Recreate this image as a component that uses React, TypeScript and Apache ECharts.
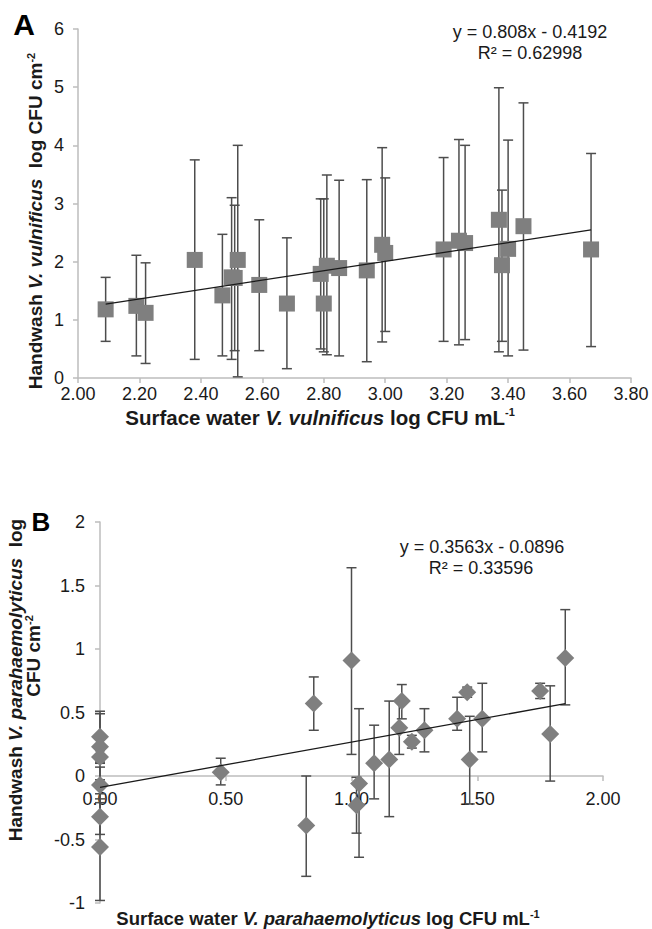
import React, { useEffect, useRef } from "react";
import * as echarts from "echarts";

// ---------- Panel A: V. vulnificus ----------
const aX = [2.09, 2.19, 2.22, 2.38, 2.47, 2.5, 2.51, 2.52, 2.59, 2.68, 2.79, 2.8, 2.81, 2.85, 2.94, 2.99, 3.0, 3.19, 3.24, 3.26, 3.37, 3.38, 3.4, 3.45, 3.67];
const aY = [1.18, 1.24, 1.12, 2.03, 1.42, 1.73, 1.72, 2.03, 1.6, 1.28, 1.79, 1.28, 1.93, 1.89, 1.85, 2.29, 2.15, 2.21, 2.36, 2.32, 2.72, 1.94, 2.22, 2.61, 2.21];
const aLow = [0.63, 0.38, 0.25, 0.32, 0.38, 0.32, 0.47, 0.02, 0.47, 0.16, 0.5, 0.45, 0.4, 0.38, 0.28, 0.62, 0.8, 0.63, 0.57, 0.66, 0.45, 0.63, 0.38, 0.48, 0.54];
const aHigh = [1.73, 2.11, 1.98, 3.75, 2.47, 3.1, 2.97, 4.0, 2.72, 2.41, 3.08, 3.08, 3.49, 3.4, 3.41, 3.96, 3.44, 3.79, 4.1, 4.0, 4.99, 3.23, 4.09, 4.73, 3.86];
const aSlope = 0.808;
const aIntercept = -0.4192;
const aXTicks = { min: 2, max: 3.8, interval: 0.2 };
const aYTicks = { min: 0, max: 6, interval: 1 };

// ---------- Panel B: V. parahaemolyticus ----------
const bX = [0, 0, 0, 0, 0, 0, 0.48, 0.82, 0.85, 1.0, 1.02, 1.03, 1.09, 1.15, 1.19, 1.2, 1.24, 1.29, 1.42, 1.46, 1.47, 1.52, 1.75, 1.79, 1.85];
const bY = [0.31, 0.23, 0.15, -0.07, -0.32, -0.56, 0.03, -0.39, 0.57, 0.91, -0.23, -0.06, 0.1, 0.13, 0.38, 0.59, 0.27, 0.36, 0.45, 0.66, 0.13, 0.45, 0.67, 0.33, 0.93];
const bLow = [0.11, -0.03, 0.1, -0.21, -0.46, -0.98, -0.07, -0.79, 0.36, 0.17, -0.45, -0.64, -0.18, -0.32, 0.17, 0.45, 0.22, 0.19, 0.36, 0.62, -0.22, 0.19, 0.61, -0.04, 0.56];
const bHigh = [0.51, 0.49, 0.2, 0.07, -0.18, -0.14, 0.14, 0.0, 0.78, 1.64, -0.01, 0.53, 0.4, 0.59, 0.59, 0.72, 0.32, 0.53, 0.62, 0.7, 0.47, 0.73, 0.73, 0.71, 1.31];
const bSlope = 0.3563;
const bIntercept = -0.0896;
const bXTicks = { min: 0, max: 2, interval: 0.5 };
const bYTicks = { min: -1, max: 2, interval: 0.5 };

const FONT = "'Liberation Sans', Arial, Helvetica, sans-serif";
const TEXT = "#1a1a1a";
const AXIS = "#bdbdbd";
const MARK = "#7f7f7f";
const BAR = "#4d4d4d";

const B_TOP = 522;
const B_HEIGHT = 381;

function trend(xs: number[], m: number, b: number) {
  const lo = Math.min(...xs);
  const hi = Math.max(...xs);
  return [
    [lo, m * lo + b],
    [hi, m * hi + b],
  ];
}

function errorItem(params: any, api: any) {
  const x = api.value(0);
  const p1 = api.coord([x, api.value(1)]);
  const p2 = api.coord([x, api.value(2)]);
  const hw = 5;
  const style = { stroke: BAR, lineWidth: 1.5, fill: "none" };
  return {
    type: "group",
    children: [
      { type: "line", shape: { x1: p1[0], y1: p1[1], x2: p2[0], y2: p2[1] }, style },
      { type: "line", shape: { x1: p2[0] - hw, y1: p2[1], x2: p2[0] + hw, y2: p2[1] }, style },
      { type: "line", shape: { x1: p1[0] - hw, y1: p1[1], x2: p1[0] + hw, y2: p1[1] }, style },
    ],
  };
}

function rich(size: number) {
  return {
    b: { fontFamily: FONT, fontSize: size, fontWeight: "bold", fill: TEXT, color: TEXT },
    bi: { fontFamily: FONT, fontSize: size, fontWeight: "bold", fontStyle: "italic", fill: TEXT, color: TEXT },
    sup: { fontFamily: FONT, fontSize: 11, fontWeight: "bold", verticalAlign: "top", fill: TEXT, color: TEXT },
  };
}

function axisCommon(t: { min: number; max: number; interval: number }, fmt: ((v: number) => string) | null, margin: number) {
  return {
    type: "value",
    min: t.min,
    max: t.max,
    interval: t.interval,
    splitLine: { show: false },
    axisLine: { show: true, onZero: false, lineStyle: { color: AXIS, width: 1.5 } },
    axisTick: { show: true, length: 5, lineStyle: { color: AXIS, width: 1.5 } },
    axisLabel: {
      fontFamily: FONT,
      fontSize: 18,
      color: TEXT,
      margin,
      formatter: fmt ? (v: number) => fmt(v) : undefined,
    },
  };
}

export default function App() {
  const ref = useRef<HTMLDivElement>(null);

  useEffect(() => {
    document.body.style.margin = "0";
    if (!ref.current) return;
    const chart = echarts.init(ref.current, null, { renderer: "svg" });

    const aPoints = aX.map((x, i) => [x, aY[i]]);
    const aErr = aX.map((x, i) => [x, aLow[i], aHigh[i]]);
    const bPoints = bX.map((x, i) => [x, bY[i]]);
    const bErr = bX.map((x, i) => [x, bLow[i], bHigh[i]]);

    // place B's x axis at y = 0 (as in the reference) via offset from grid bottom
    const bZeroOffset = -(B_HEIGHT * (0 - bYTicks.min)) / (bYTicks.max - bYTicks.min);

    const option: any = {
      animation: false,
      backgroundColor: "#ffffff",
      grid: [
        { left: 78, top: 29, width: 553, height: 349, containLabel: false, outerBoundsMode: "none" },
        { left: 100, top: B_TOP, width: 503, height: B_HEIGHT, containLabel: false, outerBoundsMode: "none" },
      ],
      xAxis: [
        { ...axisCommon(aXTicks, (v) => v.toFixed(2), 7), gridIndex: 0 },
        { ...axisCommon(bXTicks, (v) => v.toFixed(2), 14), gridIndex: 1, position: "bottom", offset: bZeroOffset },
      ],
      yAxis: [
        { ...axisCommon(aYTicks, null, 14), gridIndex: 0 },
        { ...axisCommon(bYTicks, null, 15), gridIndex: 1 },
      ],
      series: [
        {
          type: "custom",
          xAxisIndex: 0,
          yAxisIndex: 0,
          renderItem: errorItem,
          data: aErr,
          encode: { x: 0, y: [1, 2] },
          z: 2,
          silent: true,
        },
        {
          type: "scatter",
          xAxisIndex: 0,
          yAxisIndex: 0,
          symbol: "rect",
          symbolSize: 16,
          itemStyle: { color: MARK, opacity: 1 },
          data: aPoints,
          z: 3,
        },
        {
          type: "line",
          xAxisIndex: 0,
          yAxisIndex: 0,
          data: trend(aX, aSlope, aIntercept),
          symbol: "none",
          lineStyle: { color: TEXT, width: 1.3 },
          z: 4,
        },
        {
          type: "custom",
          xAxisIndex: 1,
          yAxisIndex: 1,
          renderItem: errorItem,
          data: bErr,
          encode: { x: 0, y: [1, 2] },
          z: 2,
          silent: true,
        },
        {
          type: "scatter",
          xAxisIndex: 1,
          yAxisIndex: 1,
          symbol: "diamond",
          symbolSize: 18,
          itemStyle: { color: MARK, opacity: 1 },
          data: bPoints,
          z: 3,
        },
        {
          type: "line",
          xAxisIndex: 1,
          yAxisIndex: 1,
          data: trend(bX, bSlope, bIntercept),
          symbol: "none",
          lineStyle: { color: TEXT, width: 1.3 },
          z: 4,
        },
      ],
      graphic: [
        { type: "text", x: 24, y: 24, style: { text: "A", font: `bold 30px ${FONT}`, fill: "#000", align: "center", verticalAlign: "middle" } },
        { type: "text", x: 41, y: 522, style: { text: "B", font: `bold 26px ${FONT}`, fill: "#000", align: "center", verticalAlign: "middle" } },
        { type: "text", x: 530, y: 32, style: { text: "y = 0.808x - 0.4192", font: `18px ${FONT}`, fill: TEXT, align: "center", verticalAlign: "middle" } },
        { type: "text", x: 530, y: 53, style: { text: "R² = 0.62998", font: `18px ${FONT}`, fill: TEXT, align: "center", verticalAlign: "middle" } },
        { type: "text", x: 482, y: 547, style: { text: "y = 0.3563x - 0.0896", font: `18px ${FONT}`, fill: TEXT, align: "center", verticalAlign: "middle" } },
        { type: "text", x: 481, y: 568, style: { text: "R² = 0.33596", font: `18px ${FONT}`, fill: TEXT, align: "center", verticalAlign: "middle" } },
        {
          type: "text",
          x: 320,
          y: 417,
          style: { text: "{b|Surface water }{bi|V. vulnificus}{b| log CFU mL}{sup|-1}", rich: rich(20.5), align: "center", verticalAlign: "middle" },
        },
        {
          type: "text",
          x: 328,
          y: 918,
          style: { text: "{b|Surface water }{bi|V. parahaemolyticus}{b| log CFU mL}{sup|-1}", rich: rich(18.5), align: "center", verticalAlign: "middle" },
        },
        {
          type: "text",
          x: 35,
          y: 221,
          rotation: Math.PI / 2,
          style: { text: "{b|Handwash }{bi|V. vulnificus}{b|  log CFU cm}{sup|-2}", rich: rich(19), align: "center", verticalAlign: "middle" },
        },
        {
          type: "text",
          x: 15,
          y: 680,
          rotation: Math.PI / 2,
          style: { text: "{b|Handwash }{bi|V. parahaemolyticus}{b|  log}", rich: rich(19), align: "center", verticalAlign: "middle" },
        },
        {
          type: "text",
          x: 33,
          y: 656,
          rotation: Math.PI / 2,
          style: { text: "{b|CFU cm}{sup|-2}", rich: rich(19), align: "center", verticalAlign: "middle" },
        },
      ],
    };

    chart.setOption(option);
    return () => chart.dispose();
  }, []);

  return <div ref={ref} style={{ width: 652, height: 929, background: "#fff" }} />;
}
